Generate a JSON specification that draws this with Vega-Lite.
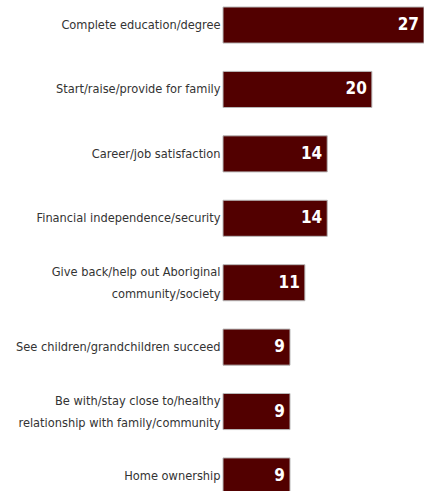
{
  "$schema": "https://vega.github.io/schema/vega-lite/v6.json",
  "width": 201,
  "height": 487,
  "autosize": {"type": "none"},
  "padding": {"left": 223, "top": 7, "right": 0, "bottom": 0},
  "background": "white",
  "data": {"values": [
    {"label": "Complete education/degree", "value": 27},
    {"label": "Start/raise/provide for family", "value": 20},
    {"label": "Career/job satisfaction", "value": 14},
    {"label": "Financial independence/security", "value": 14},
    {"label": "Give back/help out Aboriginal|community/society", "value": 11},
    {"label": "See children/grandchildren succeed", "value": 9},
    {"label": "Be with/stay close to/healthy|relationship with family/community", "value": 9},
    {"label": "Home ownership", "value": 9}
  ]},
  "encoding": {
    "y": {"field": "label", "type": "nominal", "sort": null,
      "scale": {"paddingInner": 0.44, "paddingOuter": 0},
      "axis": {"title": null, "domain": false, "ticks": false, "labelPadding": 3,
        "labelExpr": "split(datum.label, '|')", "labelFont": "'DejaVu Sans Condensed', 'Liberation Sans Narrow', Roboto, sans-serif",
        "labelFontSize": 12.7, "labelColor": "#333333", "labelLineHeight": 22, "labelLimit": 300,
        "labelOffset": {"expr": "indexof(datum.label, '|') >= 0 ? -11 : 0"}}},
    "x": {"field": "value", "type": "quantitative", "scale": {"domain": [0, 27], "nice": false}, "axis": null}
  },
  "layer": [
    {"mark": {"type": "bar", "color": "#520000", "stroke": "#b8b8b8", "strokeWidth": 1}},
    {"mark": {"type": "text", "align": "right", "baseline": "middle", "dx": -5, "font": "'DejaVu Sans Condensed', 'Liberation Sans Narrow', Roboto, sans-serif", "fontWeight": "bold", "fontSize": 17, "color": "white"},
     "encoding": {"text": {"field": "value", "type": "quantitative"}}}
  ],
  "config": {"view": {"stroke": null}}
}
